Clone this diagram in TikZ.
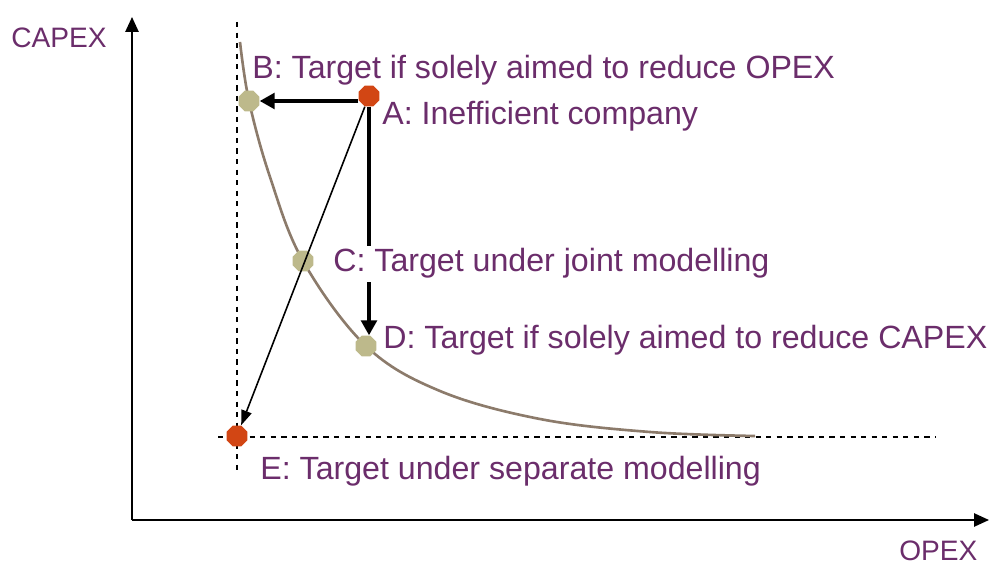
\documentclass[tikz,border=0pt]{standalone}
\usepackage{fontspec}
\setmainfont{Liberation Sans}
\usetikzlibrary{arrows.meta, positioning, calc, shapes.geometric}
\definecolor{textpurple}{HTML}{6B2D6B}
\definecolor{firmred}{HTML}{D24614}
\definecolor{targetkhaki}{HTML}{BDB98B}
\definecolor{frontbrown}{HTML}{8C7B6B}

\begin{document}
\begin{tikzpicture}[>={Triangle[length=8.5pt,width=9pt]}, x=0.02cm, y=-0.02cm,
    font=\fontsize{18.3}{21}\selectfont,
    firm/.style={regular polygon, regular polygon sides=8, minimum size=0.45cm, inner sep=0pt, fill=#1},
    lbl/.style={text=textpurple, anchor=base west, inner sep=0pt},
    axlbl/.style={lbl, font=\fontsize{16}{19}\selectfont}]
        \useasboundingbox (0,0) rectangle (989,564);
        % Axes
        \coordinate (orig) at (132,520);
        \coordinate (ytop) at (132,17);
        \coordinate (xend) at (989,520);
        \draw[line width=1.1pt, -{Triangle[length=8.5pt,width=7.5pt]}] (orig) -- (ytop);
        \draw[line width=1.1pt, -{Triangle[length=8.5pt,width=7.5pt]}] (orig) -- (xend);
        \node[axlbl] (capex) at (11,48) {CAPEX};
        \node[axlbl] (opex) at (899,560) {OPEX};
        % Separate modelling bounds
        \coordinate (vtop) at (237,22);
        \coordinate (vbot) at (237,475);
        \coordinate (hleft) at (218,437);
        \coordinate (hright) at (935,437);
        \draw[line width=1pt, dashed] (vtop) -- (vbot);
        \draw[line width=1pt, dashed] (hleft) -- (hright);
        % Efficient frontier
        \draw[frontbrown, line width=1.5pt] plot[smooth, tension=0.6] coordinates
            {(240,42) (249,101) (270,177) (303,261) (366,346) (440,391) (540,419) (650,432) (755,436)};
        % Firms
        \node[firm=firmred] (A) at (369,96) {};
        \node[firm=targetkhaki] (B) at (249,101) {};
        \node[firm=targetkhaki] (C) at (303,261) {};
        \node[firm=targetkhaki] (D) at (366,346) {};
        \node[firm=firmred] (E) at (237,436) {};
        % Moves towards targets
        \draw[line width=1.8pt, ->] (A.west |- B) -- (B);
        \draw[line width=1.8pt, ->] (A) -- (A |- D.north);
        \draw[line width=0.9pt, -{Triangle[length=8.5pt,width=6pt]}] (A) -- (E);
        % Labels
        \node[lbl] (labB) at (252,79) {B: Target if solely aimed to reduce OPEX};
        \node[lbl] (labA) at (382,125) {A: Inefficient company};
        \node[lbl, fill=white, inner ysep=4pt, text height=1.05em, text depth=0.22em] (labC) at (333,271) {C: Target under joint modelling};
        \node[lbl] (labD) at (383,348) {D: Target if solely aimed to reduce CAPEX};
        \node[lbl] (labE) at (260,479) {E: Target under separate modelling};
    \end{tikzpicture}
\end{document}
